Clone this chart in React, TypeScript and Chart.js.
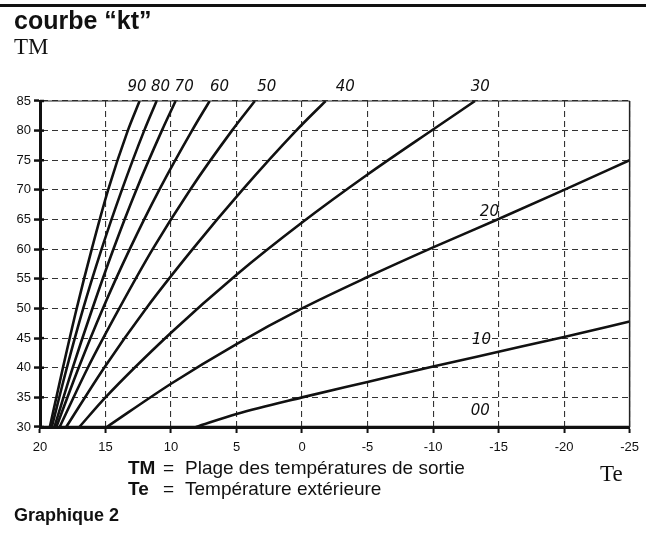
import React, { useEffect, useRef } from "react";
import { Chart, registerables } from "chart.js";

Chart.register(...registerables);

// Axis ticks
const teTicks = [20, 15, 10, 5, 0, -5, -10, -15, -20, -25];
const tmTicks = [30, 35, 40, 45, 50, 55, 60, 65, 70, 75, 80, 85];

// Curves (Te = outside temperature, TM = flow temperature)
const te00 = [20, -25];
const tm00 = [30, 30];
const te10 = [8.1, 5, 0, -5, -10, -15, -20, -25];
const tm10 = [30, 32.2, 35, 37.6, 40.2, 42.7, 45.2, 47.8];
const te20 = [14.9, 10, 5, 0, -5, -10, -15, -20, -25];
const tm20 = [30, 37.3, 44.0, 50.0, 55.3, 60.3, 65.1, 70.0, 75.0];
const te30 = [17.0, 15, 10, 5, 0, -5, -10, -13.2];
const tm30 = [30, 35, 45.9, 55.7, 64.5, 72.6, 80.2, 85];
const te40 = [18.0, 15.1, 11.9, 8.35, 4.55, 0.45, -1.8];
const tm40 = [30, 40, 50, 60, 70, 80, 85];
const te50 = [18.5, 16.35, 13.95, 11.4, 8.55, 5.35, 3.6];
const tm50 = [30, 40, 50, 60, 70, 80, 85];
const te60 = [18.75, 17.05, 15.2, 13.15, 10.9, 8.4, 7.05];
const tm60 = [30, 40, 50, 60, 70, 80, 85];
const te70 = [18.9, 17.5, 16.0, 14.4, 12.65, 10.7, 9.65];
const tm70 = [30, 40, 50, 60, 70, 80, 85];
const te80 = [19.1, 17.95, 16.7, 15.3, 13.75, 12.05, 11.1];
const tm80 = [30, 40, 50, 60, 70, 80, 85];
const te90 = [19.25, 18.25, 17.2, 16.05, 14.8, 13.3, 12.4];
const tm90 = [30, 40, 50, 60, 70, 80, 85];

const curveTe = [te00, te10, te20, te30, te40, te50, te60, te70, te80, te90];
const curveTm = [tm00, tm10, tm20, tm30, tm40, tm50, tm60, tm70, tm80, tm90];

// Curve labels (anchored in data units)
const labelText = ["90", "80", "70", "60", "50", "40", "30", "20", "10", "00"];
const labelTe = [12.6, 10.8, 9.0, 6.3, 2.7, -3.3, -13.6, -14.3, -13.7, -13.6];
const labelTm = [87.4, 87.4, 87.4, 87.4, 87.4, 87.4, 87.4, 66.2, 44.6, 32.7];

const curveLabelsPlugin = {
  id: "curveLabels",
  afterDatasetsDraw(chart: any) {
    const { ctx, scales, chartArea } = chart;
    ctx.save();
    ctx.strokeStyle = "#222";
    ctx.lineWidth = 1.5;
    ctx.beginPath();
    ctx.moveTo(chartArea.right, chartArea.bottom);
    ctx.lineTo(chartArea.right, chartArea.top);
    ctx.stroke();
    ctx.lineWidth = 1;
    ctx.beginPath();
    ctx.moveTo(chartArea.left, chartArea.top);
    ctx.lineTo(chartArea.right, chartArea.top);
    ctx.stroke();
    ctx.lineWidth = 2.5;
    ctx.strokeStyle = "#111";
    tmTicks.forEach((v) => {
      const y = scales.y.getPixelForValue(v);
      ctx.beginPath();
      ctx.moveTo(chartArea.left, y);
      ctx.lineTo(chartArea.left + 4, y);
      ctx.stroke();
    });
    ctx.fillStyle = "#111";
    ctx.font = 'italic 15px "DejaVu Sans"';
    ctx.textAlign = "center";
    ctx.textBaseline = "middle";
    labelText.forEach((t, i) => {
      const x = scales.x.getPixelForValue(labelTe[i]);
      const y = scales.y.getPixelForValue(labelTm[i]);
      ctx.fillText(t, x, y);
    });
    ctx.restore();
  },
};

export default function App() {
  const ref = useRef<HTMLCanvasElement | null>(null);

  useEffect(() => {
    if (!ref.current) return;
    const datasets = curveTe.map((tes, i) => ({
      data: tes.map((x, j) => ({ x, y: curveTm[i][j] })),
      borderColor: "#111",
      borderWidth: 2.6,
      pointRadius: 0,
      showLine: true,
      fill: false,
      cubicInterpolationMode: "monotone" as const,
    }));
    const chart = new Chart(ref.current, {
      type: "scatter",
      data: { datasets },
      options: {
        animation: false,
        responsive: false,
        maintainAspectRatio: false,
        layout: { padding: { left: 0, top: 101, right: 12, bottom: 76 } },
        plugins: { legend: { display: false }, tooltip: { enabled: false } },
        scales: {
          x: {
            type: "linear",
            reverse: true,
            min: -25,
            max: 20,
            afterBuildTicks: (s: any) => {
              s.ticks = teTicks.map((v) => ({ value: v }));
            },
            afterFit: (s: any) => {
              s.height = 30;
            },
            ticks: {
              autoSkip: false,
              maxRotation: 0,
              padding: 7,
              color: "#111",
              font: { family: "Liberation Sans", size: 13 },
              callback: (v: any) => String(v),
            },
            grid: {
              color: "#333",
              lineWidth: 1.1,
              drawTicks: true,
              tickLength: 6,
              tickColor: "#111",
              tickWidth: 2,
            },
            border: { display: true, color: "#111", width: 3, dash: [6, 4] },
          },
          y: {
            type: "linear",
            min: 30,
            max: 85,
            afterBuildTicks: (s: any) => {
              s.ticks = tmTicks.map((v) => ({ value: v }));
            },
            afterFit: (s: any) => {
              s.width = 40;
            },
            ticks: {
              autoSkip: false,
              padding: 3,
              color: "#111",
              font: { family: "Liberation Sans", size: 13 },
              callback: (v: any) => String(v),
            },
            grid: {
              color: "#333",
              lineWidth: 1.1,
              drawTicks: true,
              tickLength: 6,
              tickColor: "#111",
              tickWidth: 2.5,
            },
            border: { display: true, color: "#111", width: 3, dash: [6, 4] },
          },
        },
      },
      plugins: [curveLabelsPlugin],
    });
    return () => chart.destroy();
  }, []);

  const sans = '"Liberation Sans", Arial, sans-serif';
  const serif = '"Liberation Serif", "Times New Roman", serif';

  return (
    <div style={{ position: "absolute", left: 0, top: 0, width: 646, height: 533, background: "#fff", overflow: "hidden" }}>
      <canvas ref={ref} width={646} height={533} style={{ position: "absolute", left: 0, top: 0, width: 646, height: 533, display: "block" }} />
      <div style={{ position: "absolute", left: 0, top: 4, width: 646, height: 3, background: "#111" }} />
      <div style={{ position: "absolute", left: 14, top: 7, font: `bold 25px ${sans}`, color: "#111", lineHeight: "27px", whiteSpace: "nowrap" }}>
        courbe “kt”
      </div>
      <div style={{ position: "absolute", left: 14, top: 34, font: `23px ${serif}`, color: "#111", lineHeight: "25px" }}>TM</div>
      <div style={{ position: "absolute", left: 128, top: 457, font: `19px ${sans}`, color: "#111", lineHeight: "22px", whiteSpace: "nowrap" }}>
        <span style={{ fontWeight: "bold", display: "inline-block", width: 35 }}>TM</span>
        <span style={{ display: "inline-block", width: 22 }}>=</span>
        <span>Plage des températures de sortie</span>
      </div>
      <div style={{ position: "absolute", left: 128, top: 478, font: `19px ${sans}`, color: "#111", lineHeight: "22px", whiteSpace: "nowrap" }}>
        <span style={{ fontWeight: "bold", display: "inline-block", width: 35 }}>Te</span>
        <span style={{ display: "inline-block", width: 22 }}>=</span>
        <span>Température extérieure</span>
      </div>
      <div style={{ position: "absolute", left: 600, top: 461, font: `23px ${serif}`, color: "#111", lineHeight: "25px" }}>Te</div>
      <div style={{ position: "absolute", left: 14, top: 504, font: `bold 18px ${sans}`, color: "#111", lineHeight: "22px", whiteSpace: "nowrap" }}>
        Graphique 2
      </div>
    </div>
  );
}
